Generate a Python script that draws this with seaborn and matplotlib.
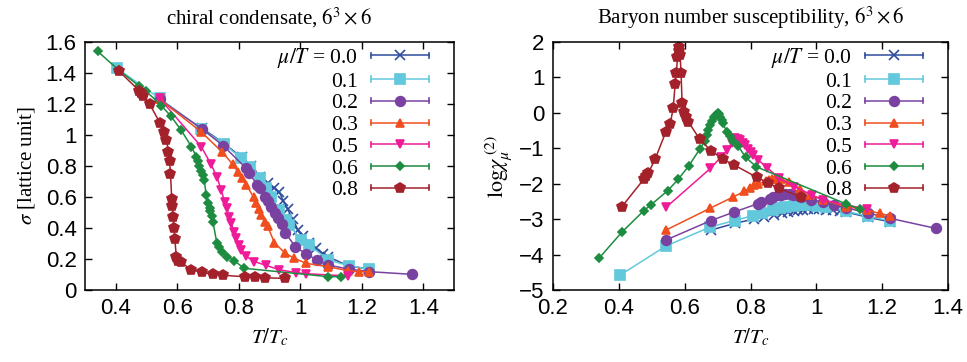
import numpy as np
import pandas as pd
import matplotlib
matplotlib.use("Agg")
import matplotlib.pyplot as plt
from matplotlib.lines import Line2D
from matplotlib.legend_handler import HandlerLine2D
import seaborn as sns

# mu/T = 0.0
t_00 = [0.680, 0.752, 0.810, 0.840, 0.870, 0.895, 0.915, 0.932, 0.945, 0.959, 0.976, 0.992, 1.008, 1.030, 1.050, 1.073, 1.090, 1.157, 1.225]
sig_00 = [1.045, 0.945, 0.855, 0.800, 0.730, 0.690, 0.660, 0.630, 0.575, 0.520, 0.455, 0.390, 0.345, 0.300, 0.270, 0.235, 0.215, 0.155, 0.135]
chi_00 = [-3.31, -3.12, -3.00, -2.93, -2.87, -2.83, -2.79, -2.76, -2.74, -2.73, -2.72, -2.72, -2.72, -2.73, -2.74, -2.76, -2.80, -2.95, -3.08]

# mu/T = 0.1
t_01 = [0.404, 0.543, 0.678, 0.752, 0.808, 0.835, 0.868, 0.890, 0.905, 0.932, 0.954, 0.965, 1.003, 1.030, 1.090, 1.157, 1.225]
sig_01 = [1.430, 1.236, 1.040, 0.942, 0.850, 0.795, 0.720, 0.656, 0.600, 0.516, 0.452, 0.420, 0.320, 0.290, 0.194, 0.157, 0.133]
chi_01 = [-4.58, -3.76, -3.22, -3.04, -2.90, -2.84, -2.75, -2.70, -2.66, -2.62, -2.60, -2.60, -2.62, -2.66, -2.78, -2.92, -3.05]

# mu/T = 0.2
t_02 = [0.543, 0.680, 0.750, 0.824, 0.833, 0.859, 0.868, 0.886, 0.894, 0.905, 0.919, 0.929, 0.941, 0.952, 0.984, 1.019, 1.054, 1.090, 1.157, 1.225, 1.362]
sig_02 = [1.230, 1.040, 0.930, 0.785, 0.757, 0.680, 0.655, 0.600, 0.574, 0.537, 0.495, 0.463, 0.426, 0.366, 0.280, 0.232, 0.194, 0.161, 0.135, 0.118, 0.101]
chi_02 = [-3.59, -3.04, -2.80, -2.56, -2.52, -2.42, -2.38, -2.33, -2.31, -2.30, -2.30, -2.31, -2.33, -2.38, -2.45, -2.52, -2.60, -2.68, -2.83, -2.98, -3.26]

# mu/T = 0.3
t_03 = [0.543, 0.678, 0.746, 0.781, 0.797, 0.811, 0.824, 0.848, 0.857, 0.865, 0.873, 0.884, 0.894, 0.916, 0.951, 0.981, 1.019, 1.090, 1.154, 1.192, 1.225]
sig_03 = [1.230, 1.020, 0.890, 0.810, 0.760, 0.720, 0.680, 0.600, 0.560, 0.520, 0.484, 0.440, 0.410, 0.305, 0.237, 0.204, 0.172, 0.150, 0.125, 0.118, 0.118]
chi_03 = [-3.31, -2.69, -2.38, -2.22, -2.12, -2.05, -2.00, -1.93, -1.90, -1.88, -1.87, -1.87, -1.88, -1.94, -2.15, -2.32, -2.45, -2.65, -2.74, -2.84, -2.91]

# mu/T = 0.5
t_05 = [0.543, 0.678, 0.710, 0.729, 0.743, 0.754, 0.762, 0.768, 0.776, 0.784, 0.792, 0.800, 0.808, 0.822, 0.851, 0.887, 0.932, 0.987, 1.020, 1.154]
sig_05 = [1.236, 0.925, 0.810, 0.730, 0.645, 0.570, 0.527, 0.473, 0.430, 0.376, 0.333, 0.290, 0.258, 0.220, 0.183, 0.160, 0.130, 0.112, 0.105, 0.090]
chi_05 = [-2.67, -1.57, -1.25, -1.05, -0.85, -0.72, -0.74, -0.78, -0.85, -0.92, -1.02, -1.10, -1.18, -1.32, -1.55, -1.85, -2.08, -2.32, -2.46, -2.72]

# mu/T = 0.6
t_06 = [0.341, 0.409, 0.476, 0.497, 0.548, 0.580, 0.613, 0.646, 0.662, 0.667, 0.672, 0.678, 0.683, 0.688, 0.694, 0.700, 0.705, 0.708, 0.713, 0.716, 0.729, 0.737, 0.747, 0.763, 0.785, 0.817, 1.090, 1.133]
sig_06 = [1.540, 1.420, 1.316, 1.286, 1.190, 1.120, 1.030, 0.925, 0.860, 0.830, 0.800, 0.770, 0.740, 0.710, 0.610, 0.560, 0.530, 0.510, 0.480, 0.440, 0.300, 0.280, 0.245, 0.215, 0.190, 0.140, 0.086, 0.086]
chi_06 = [-4.09, -3.37, -2.76, -2.60, -2.20, -1.88, -1.49, -1.02, -0.79, -0.62, -0.48, -0.34, -0.22, -0.13, -0.06, 0.00, -0.04, -0.12, -0.20, -0.30, -0.55, -0.65, -0.80, -0.95, -1.25, -1.52, -2.57, -2.72]

# mu/T = 0.8
t_08 = [0.409, 0.476, 0.483, 0.490, 0.510, 0.543, 0.556, 0.565, 0.571, 0.575, 0.578, 0.582, 0.584, 0.586, 0.589, 0.592, 0.597, 0.603, 0.611, 0.646, 0.680, 0.716, 0.750, 0.819, 0.852, 0.886, 0.952]
sig_08 = [1.415, 1.286, 1.270, 1.250, 1.200, 1.080, 1.020, 0.970, 0.890, 0.830, 0.750, 0.590, 0.540, 0.470, 0.400, 0.330, 0.215, 0.190, 0.180, 0.130, 0.114, 0.100, 0.095, 0.085, 0.083, 0.078, 0.075]
chi_08 = [-2.65, -1.87, -1.78, -1.69, -1.31, -0.53, -0.31, 0.13, 0.81, 1.12, 1.59, 1.85, 1.75, 1.62, 1.13, 0.29, 0.03, -0.13, -0.25, -0.75, -1.07, -1.31, -1.47, -1.82, -1.97, -2.13, -2.37]

mu_labels = ["0.0", "0.1", "0.2", "0.3", "0.5", "0.6", "0.8"]
temps = [t_00, t_01, t_02, t_03, t_05, t_06, t_08]
sigmas = [sig_00, sig_01, sig_02, sig_03, sig_05, sig_06, sig_08]
chis = [chi_00, chi_01, chi_02, chi_03, chi_05, chi_06, chi_08]

colors = ["#2e4d9e", "#62c8dc", "#7a42a0", "#f04e1e", "#ee1c98", "#1d8c40", "#a3212a"]
markers = ["x", "s", "o", "^", "v", "D", "p"]
msizes = [7, 6.5, 7, 6, 6, 4.5, 7]

plt.rcParams["font.family"] = "Liberation Sans"
plt.rcParams["mathtext.fontset"] = "stix"
plt.rcParams["axes.linewidth"] = 1.1

fig = plt.figure(figsize=(9.67, 3.62), dpi=100)
ax1 = fig.add_axes([0.0879, 0.199, 0.3816, 0.685])
ax2 = fig.add_axes([0.5719, 0.199, 0.4085, 0.685])

serif = {"family": "Liberation Serif"}


class CapHandler(HandlerLine2D):
    # gnuplot-like key: line with a short vertical bar at each end
    def create_artists(self, legend, orig, xd, yd, w, h, fontsize, trans):
        arts = super().create_artists(legend, orig, xd, yd, w, h, fontsize, trans)
        xs = arts[0].get_xdata()
        yc = arts[0].get_ydata()[0]
        for x in (xs[0], xs[-1]):
            arts.append(Line2D([x, x], [yc - 0.17 * h, yc + 0.17 * h],
                               color=orig.get_color(), lw=1.2, transform=trans))
        return arts


for ax, ys, bx in [(ax1, sigmas, 0.932), (ax2, chis, 0.937)]:
    for i in range(len(mu_labels)):
        df = pd.DataFrame({"T": temps[i], "v": ys[i]})
        lab = r"$\mu/T$ = " + mu_labels[i] if i == 0 else mu_labels[i]
        sns.lineplot(data=df, x="T", y="v", ax=ax, color=colors[i], marker=markers[i],
                     markersize=msizes[i], markeredgecolor=colors[i], markeredgewidth=1.2,
                     linewidth=1.1, sort=False, estimator=None, label=lab)
    ax.tick_params(direction="in", top=True, right=True, length=5, width=1,
                   labelsize=16, pad=6)
    ax.set_xlabel(r"$T/T_c$", fontsize=15, labelpad=5)
    ax.legend(loc="upper right", bbox_to_anchor=(bx, 0.985), handler_map={Line2D: CapHandler()},
              numpoints=1, markerfirst=False, frameon=False, handlelength=2.7,
              handletextpad=0.6, labelspacing=0.08, borderpad=0, borderaxespad=0,
              prop={"family": "Liberation Serif", "size": 15.5})

ax1.set_xlim(0.3, 1.5)
ax1.set_ylim(0, 1.6)
ax1.set_xticks([0.4, 0.6, 0.8, 1.0, 1.2, 1.4])
ax1.set_xticklabels(["0.4", "0.6", "0.8", "1", "1.2", "1.4"])
ax1.set_yticks([0, 0.2, 0.4, 0.6, 0.8, 1.0, 1.2, 1.4, 1.6])
ax1.set_yticklabels(["0", "0.2", "0.4", "0.6", "0.8", "1", "1.2", "1.4", "1.6"])
ax1.set_ylabel(r"$\sigma$ [lattice unit]", fontsize=15, labelpad=6, **serif)
ax1.set_title(r"chiral condensate, $6^3\times 6$", fontsize=15, pad=13, **serif)

ax2.set_xlim(0.2, 1.4)
ax2.set_ylim(-5, 2)
ax2.set_xticks([0.2, 0.4, 0.6, 0.8, 1.0, 1.2, 1.4])
ax2.set_xticklabels(["0.2", "0.4", "0.6", "0.8", "1", "1.2", "1.4"])
ax2.set_yticks([-5, -4, -3, -2, -1, 0, 1, 2])
ax2.set_ylabel(r"$\mathrm{log}\chi_{\mu}^{\ (2)}$", fontsize=16, labelpad=4)
ax2.set_title(r"Baryon number susceptibility, $6^3\times 6$", fontsize=15, pad=13, **serif)

fig.savefig("out.png", dpi=100)
